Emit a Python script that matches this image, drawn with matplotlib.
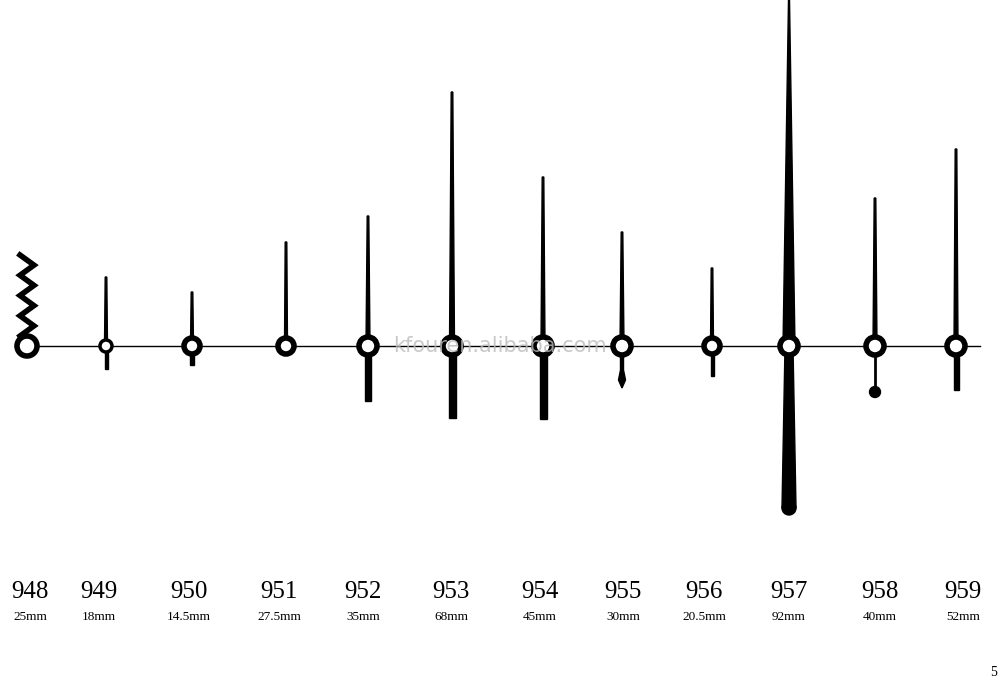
import matplotlib
matplotlib.use("Agg")
import matplotlib.pyplot as plt
from matplotlib.patches import Polygon, Circle

models = ["948","949","950","951","952","953","954","955","956","957","958","959"]
sizes = ["25mm","18mm","14.5mm","27.5mm","35mm","68mm","45mm","30mm","20.5mm","92mm","40mm","52mm"]
hand_x = [27,106,192,286,368,452,543,622,712,789,875,956]
top_y = [255,277,292,242,216,92,177,232,268,0,198,149]
bottom_y = [346,369,365,346,401,418,419,388,376,515,392,390]
top_w = [0,3,3,3,4,5,4,4,3,12,4,4]
bot_w = [0,3,4,0,6,7,7,4,3,14,3,5]
ring_r = [10,6,8,8,9,9,9,9,8,9,9,9]
label_x = [30,99,189,279,363,451,540,623,704,789,880,963]

fig = plt.figure(figsize=(10,6.82), dpi=100)
ax = fig.add_axes([0,0,1,1])
ax.set_xlim(0,1000); ax.set_ylim(682,0); ax.axis("off")
cy = 346
ax.plot([15,980],[cy,cy],color="black",lw=1)
for i,x in enumerate(hand_x):
    if i == 0:
        zx=[]; zy=[]
        n=8
        for k in range(n+1):
            zy.append(top_y[0]+(cy-10-top_y[0])*k/n)
            zx.append(x + (-7 if k%2==0 else 7))
        ax.plot(zx,zy,color="black",lw=4,solid_joinstyle="miter")
    else:
        tw=top_w[i]
        if i==9:
            ax.add_patch(Polygon([(x-0.5,top_y[i]),(x+0.5,top_y[i]),(x+tw/2,cy),(x-tw/2,cy)],closed=True,color="black"))
        else:
            ax.add_patch(Polygon([(x-0.8,top_y[i]),(x+0.8,top_y[i]),(x+tw/2,cy),(x-tw/2,cy)],closed=True,color="black"))
        bw=bot_w[i]
        if bw>0:
            if i==9:
                ax.add_patch(Polygon([(x-4,cy),(x+4,cy),(x+bw/2,bottom_y[i]-7),(x-bw/2,bottom_y[i]-7)],closed=True,color="black"))
                ax.add_patch(Circle((x,bottom_y[i]-7),bw/2,color="black"))
            elif i==7:
                ax.add_patch(Polygon([(x-1.5,cy),(x+1.5,cy),(x+1.5,370),(x+3.5,380),(x,bottom_y[i]),(x-3.5,380),(x-1.5,370)],closed=True,color="black"))
            elif i==10:
                ax.plot([x,x],[cy,bottom_y[i]-4],color="black",lw=2)
                ax.add_patch(Circle((x,bottom_y[i]),5.5,color="black"))
            else:
                ax.add_patch(Polygon([(x-bw/2,cy),(x+bw/2,cy),(x+bw/2,bottom_y[i]),(x-bw/2,bottom_y[i])],closed=True,color="black"))
    r=ring_r[i]
    ax.add_patch(Circle((x,cy),r,facecolor="white",edgecolor="black",lw=4 if r>7 else 2.5,zorder=5))
ax.text(500,346,"kfouren.alibaba.com",color="#bbbbbb",fontsize=15,ha="center",va="center",alpha=0.8,zorder=6)
for m,s,x in zip(models,sizes,label_x):
    ax.text(x,592,m,fontsize=18,family="Liberation Serif",ha="center",va="center")
    ax.text(x,617,s,fontsize=9.5,family="Liberation Serif",ha="center",va="center")
ax.text(994,672,"5",fontsize=10,family="Liberation Serif",ha="center",va="center")
fig.savefig("out.png",dpi=100)
